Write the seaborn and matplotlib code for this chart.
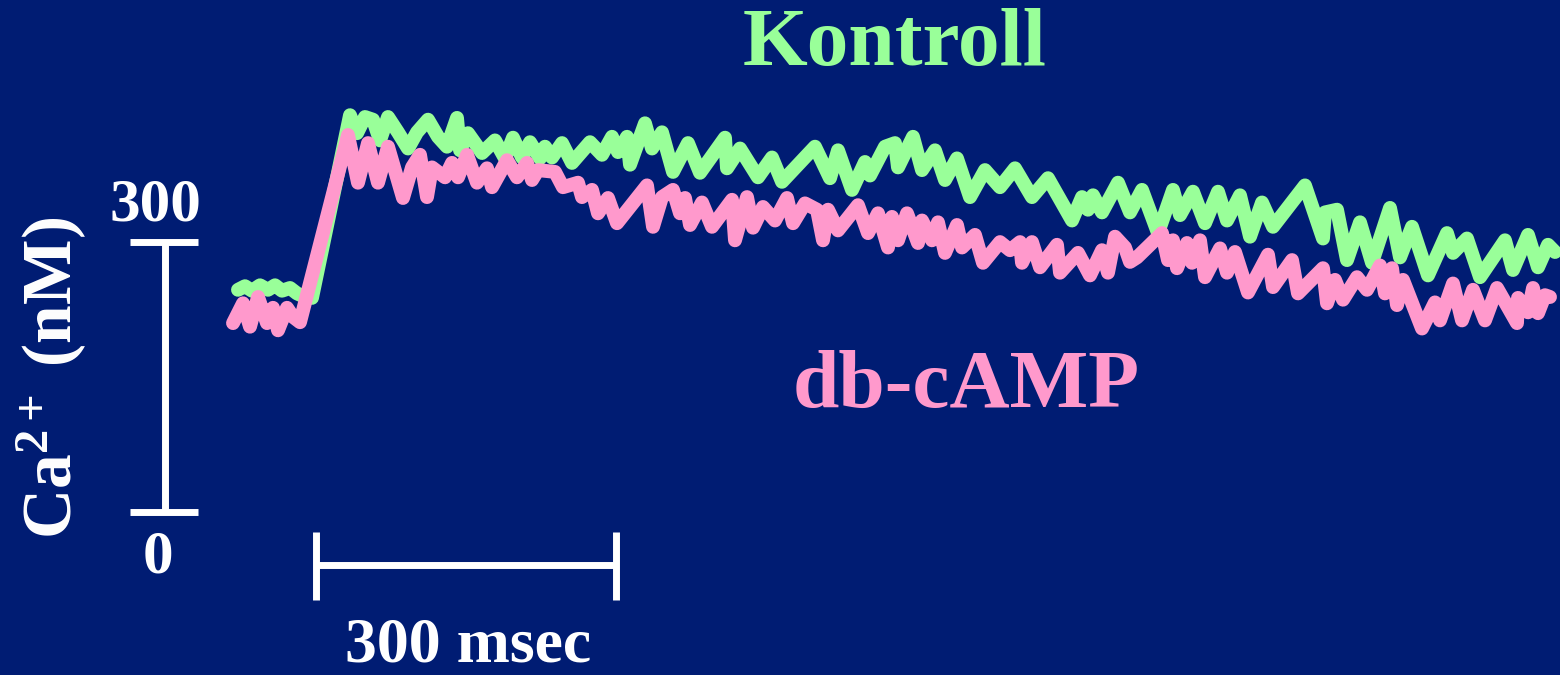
import numpy as np
import pandas as pd
import matplotlib
matplotlib.use("Agg")
import matplotlib.pyplot as plt
import seaborn as sns

# ---- data (time in ms, Ca2+ in nM) ----
kontroll_t = [-78, -71, -64, -56, -48, -41, -34, -26, -19, -11, -4, 34, 41, 49, 57, 64, 72, 82, 92, 101,
              112, 122, 131, 141, 144, 152, 166, 179, 189, 197, 206, 214, 224, 229, 236, 246, 256, 274, 286, 296,
              302, 311, 314, 329, 336, 346, 357, 372, 384, 409, 411, 424, 442, 456, 466, 499, 514, 522, 536, 549,
              554, 569, 579, 582, 597, 606, 619, 629, 641, 654, 669, 684, 699, 716, 732, 756, 766, 772, 777, 786,
              802, 814, 826, 842, 857, 864, 877, 889, 902, 911, 924, 934, 946, 957, 989, 1007, 1009, 1021, 1031, 1044,
              1056, 1074, 1084, 1096, 1112, 1131, 1137, 1151, 1164, 1189, 1197, 1212, 1222, 1232, 1239]
kontroll_ca = [247, 251, 246, 252, 247, 252, 246, 249, 243, 239, 238, 441, 421, 439, 436, 413, 439, 422, 404, 422,
               436, 417, 406, 438, 402, 421, 399, 413, 393, 416, 394, 411, 393, 406, 394, 410, 388, 411, 397, 417,
               400, 417, 386, 432, 404, 422, 378, 410, 377, 416, 382, 404, 372, 394, 367, 406, 371, 402, 358, 389,
               374, 406, 410, 383, 417, 380, 402, 369, 393, 350, 380, 361, 382, 350, 371, 324, 350, 336, 352, 333,
               366, 333, 358, 310, 358, 330, 356, 321, 356, 324, 352, 306, 344, 317, 363, 304, 333, 336, 280, 322,
               277, 338, 283, 317, 263, 310, 288, 304, 261, 302, 269, 308, 272, 297, 289]

dbcamp_t = [-83, -73, -66, -58, -49, -43, -38, -29, -23, -16, 32, 42, 52, 62, 72, 87, 96, 104, 111, 116,
            129, 136, 142, 151, 161, 171, 176, 191, 201, 211, 216, 222, 239, 247, 262, 266, 276, 282, 292, 301,
            331, 337, 346, 357, 364, 369, 374, 386, 396, 416, 419, 431, 437, 447, 459, 471, 477, 489, 501, 507,
            512, 522, 542, 552, 562, 572, 576, 582, 591, 602, 606, 616, 622, 629, 641, 646, 659, 667, 684, 694,
            704, 706, 716, 724, 741, 744, 762, 774, 786, 792, 799, 809, 814, 821, 846, 852, 857, 861, 871, 876,
            884, 889, 904, 911, 919, 932, 952, 957, 976, 982, 1007, 1011, 1019, 1027, 1041, 1051, 1064, 1069, 1076, 1081,
            1087, 1106, 1119, 1124, 1137, 1146, 1157, 1169, 1181, 1201, 1202, 1212, 1217, 1222, 1229, 1234]
dbcamp_ca = [210, 232, 206, 239, 210, 227, 202, 227, 217, 211, 419, 366, 410, 366, 406, 349, 383, 397, 350, 383,
             372, 388, 372, 397, 366, 382, 361, 391, 372, 388, 369, 380, 378, 361, 366, 350, 358, 332, 349, 321,
             363, 317, 350, 358, 332, 349, 319, 344, 317, 347, 302, 350, 316, 339, 324, 349, 321, 343, 336, 302,
             336, 313, 341, 310, 332, 294, 328, 302, 332, 299, 324, 302, 322, 288, 319, 294, 308, 277, 300, 291,
             300, 277, 300, 272, 297, 266, 288, 263, 291, 266, 306, 294, 278, 283, 310, 280, 302, 271, 299, 277,
             302, 261, 293, 266, 289, 244, 286, 250, 280, 243, 271, 232, 258, 236, 261, 247, 274, 243, 271, 230,
             258, 204, 233, 213, 254, 213, 247, 213, 249, 210, 238, 222, 249, 221, 241, 239]

series_names = ["Kontroll", "db-cAMP"]
series_colors = ["#99FF99", "#FF99CC"]

scale_ca = 300   # nM
scale_ms = 300   # ms

bg = "#001C73"

df = pd.concat([
    pd.DataFrame({"t": kontroll_t, "ca": kontroll_ca, "series": series_names[0]}),
    pd.DataFrame({"t": dbcamp_t, "ca": dbcamp_ca, "series": series_names[1]}),
], ignore_index=True)

sns.set_theme(style="white")
plt.rcParams["font.family"] = ["Liberation Serif", "DejaVu Serif"]
plt.rcParams["mathtext.fontset"] = "custom"
plt.rcParams["mathtext.rm"] = "Liberation Serif:bold"
plt.rcParams["mathtext.it"] = "Liberation Serif:bold"
plt.rcParams["mathtext.bf"] = "Liberation Serif:bold"
plt.rcParams["mathtext.default"] = "rm"

fig = plt.figure(figsize=(15.6, 6.75), dpi=100, facecolor=bg)
ax = fig.add_axes([0, 0, 1, 1])
ax.set_facecolor(bg)

sns.lineplot(data=df, x="t", y="ca", hue="series", hue_order=series_names,
             palette=dict(zip(series_names, series_colors)), sort=False, estimator=None,
             linewidth=10, legend=False, ax=ax)
for line in ax.get_lines():
    line.set_solid_joinstyle("round")
    line.set_solid_capstyle("round")

ax.set_xlim(-316, 1244)
ax.set_ylim(-181, 569)
ax.axis("off")

white = "white"
lw = 5
# vertical scale bar (Ca)
ax.plot([-151, -151], [0, scale_ca], color=white, lw=lw, solid_capstyle="butt")
ax.plot([-186, -118], [0, 0], color=white, lw=lw, solid_capstyle="butt")
ax.plot([-186, -118], [scale_ca, scale_ca], color=white, lw=lw, solid_capstyle="butt")
# horizontal scale bar (time)
ax.plot([0, scale_ms], [-59, -59], color=white, lw=lw, solid_capstyle="butt")
ax.plot([0, 0], [-22, -98], color=white, lw=lw, solid_capstyle="butt")
ax.plot([scale_ms, scale_ms], [-22, -98], color=white, lw=lw, solid_capstyle="butt")

ax.text(-161, 341, f"{scale_ca}", color=white, fontsize=44, fontweight="bold",
        ha="center", va="center")
ax.text(-158, -50, "0", color=white, fontsize=44, fontweight="bold",
        ha="center", va="center")
ax.text(-264, 149, "Ca$^{2+}$ (nM)", color=white, fontsize=50, fontweight="bold",
        ha="center", va="center", rotation=90)
ax.text(152, -149, f"{scale_ms} msec", color=white, fontsize=46, fontweight="bold",
        ha="center", va="center")

ax.text(579, 518, series_names[0], color=series_colors[0], fontsize=60, fontweight="bold",
        ha="center", va="center")
ax.text(650, 138, series_names[1], color=series_colors[1], fontsize=60, fontweight="bold",
        ha="center", va="center")

fig.savefig("out.png", dpi=100, facecolor=bg)
